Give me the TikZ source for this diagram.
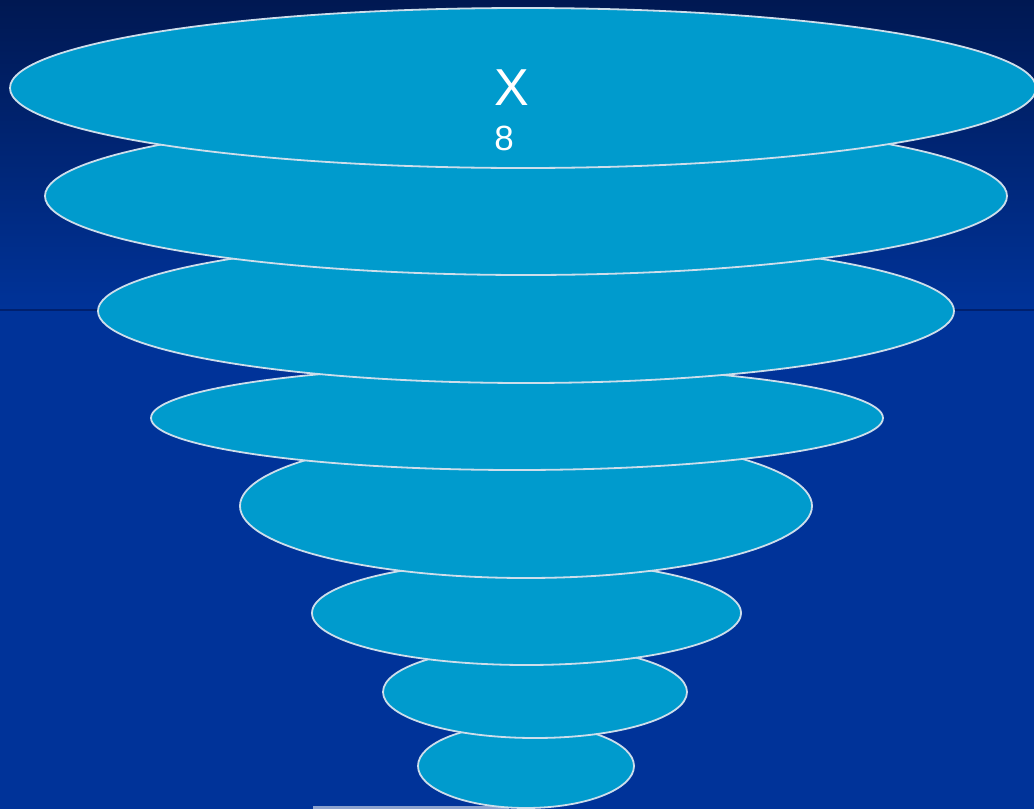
\documentclass[tikz,border=0pt]{standalone}
\usepackage{fontspec}
\setmainfont{Liberation Sans}
\begin{document}
\begin{tikzpicture}[x=1pt,y=-1pt,
  disc/.style={fill=discblue,draw=rimgray,line width=1.8pt},
  lbl/.style={text=white,inner sep=0pt}]
\definecolor{bgtop}{RGB}{0,24,82}
\definecolor{bgmain}{RGB}{0,51,153}
\definecolor{discblue}{RGB}{0,155,205}
\definecolor{rimgray}{RGB}{205,222,235}
\definecolor{seam}{RGB}{0,32,110}
\definecolor{barcol}{RGB}{140,162,206}
\useasboundingbox (0,0) rectangle (1034,809);
\fill[bgmain] (0,0) rectangle (1034,809);
\shade[top color=bgtop,bottom color=bgmain] (0,0) rectangle (1034,310);
\draw[seam,line width=1.2pt] (0,310) -- (1034,310);
\fill[barcol] (313,806) rectangle (509,809);
% discs, back to front
\path[disc] (526,766) ellipse [x radius=108,y radius=42];
\path[disc] (535,692) ellipse [x radius=152,y radius=46];
\path[disc] (526.5,613) ellipse [x radius=214.5,y radius=52];
\path[disc] (526,506) ellipse [x radius=286,y radius=72];
\path[disc] (517,418) ellipse [x radius=366,y radius=52];
\path[disc] (526,311) ellipse [x radius=428,y radius=72];
\path[disc] (526,196) ellipse [x radius=481,y radius=79];
\path[disc] (523,88) ellipse [x radius=513,y radius=80];
\node[lbl,font=\fontsize{52}{52}\selectfont] (x) at (512,88) {X};
\node[lbl,font=\fontsize{35}{35}\selectfont] (n) at (504,138) {8};
\end{tikzpicture}
\end{document}
